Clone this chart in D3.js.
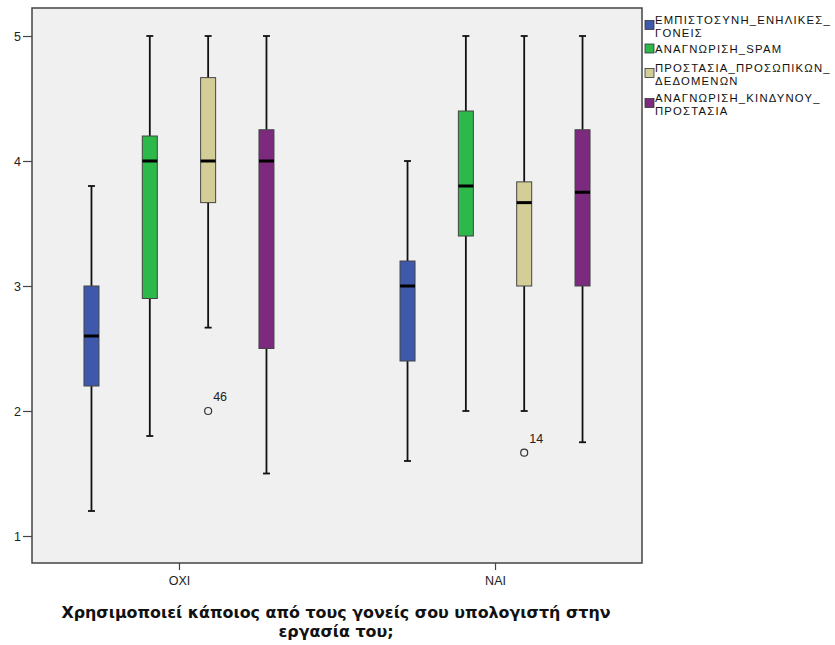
<!DOCTYPE html>
<html>
<head>
<meta charset="utf-8">
<script src="https://cdn.jsdelivr.net/npm/d3@7"></script>
<style>
  body { margin: 0; background: #fff; }
  svg { display: block; }
</style>
</head>
<body>
<svg id="chart" width="835" height="645"></svg>
<script>
// ---- Data ----
const groups = ["ΟΧΙ", "ΝΑΙ"];
const seriesNames = [
  "ΕΜΠΙΣΤΟΣΥΝΗ_ΕΝΗΛΙΚΕΣ_ΓΟΝΕΙΣ",
  "ΑΝΑΓΝΩΡΙΣΗ_SPAM",
  "ΠΡΟΣΤΑΣΙΑ_ΠΡΟΣΩΠΙΚΩΝ_ΔΕΔΟΜΕΝΩΝ",
  "ΑΝΑΓΝΩΡΙΣΗ_ΚΙΝΔΥΝΟΥ_ΠΡΟΣΤΑΣΙΑ"
];
const legendLines = [
  ["ΕΜΠΙΣΤΟΣΥΝΗ_ΕΝΗΛΙΚΕΣ_", "ΓΟΝΕΙΣ"],
  ["ΑΝΑΓΝΩΡΙΣΗ_SPAM"],
  ["ΠΡΟΣΤΑΣΙΑ_ΠΡΟΣΩΠΙΚΩΝ_", "ΔΕΔΟΜΕΝΩΝ"],
  ["ΑΝΑΓΝΩΡΙΣΗ_ΚΙΝΔΥΝΟΥ_", "ΠΡΟΣΤΑΣΙΑ"]
];
const seriesColors = ["#3E58AC", "#2DB84A", "#D3CE97", "#7B2A7D"];
// [whiskerLow, q1, median, q3, whiskerHigh] per group, per series
const statsOXI = [
  [1.2, 2.2, 2.6, 3.0, 3.8],
  [1.8, 2.9, 4.0, 4.2, 5.0],
  [2.667, 3.667, 4.0, 4.667, 5.0],
  [1.5, 2.5, 4.0, 4.25, 5.0]
];
const statsNAI = [
  [1.6, 2.4, 3.0, 3.2, 4.0],
  [2.0, 3.4, 3.8, 4.4, 5.0],
  [2.0, 3.0, 3.667, 3.833, 5.0],
  [1.75, 3.0, 3.75, 4.25, 5.0]
];
// outliers: [groupIndex, seriesIndex, value, label]
const outliers = [
  [0, 2, 2.0, "46"],
  [1, 2, 1.667, "14"]
];
const yTicks = [1, 2, 3, 4, 5];
const xTitleLines = ["Χρησιμοποιεί κάποιος από τους γονείς σου υπολογιστή στην", "εργασία του;"];

// ---- Layout ----
const svg = d3.select("#chart");
const plot = { left: 32, top: 8, right: 642, bottom: 563 };

const y = d3.scaleLinear().domain([1, 5]).range([536, 36]);
const x0 = d3.scalePoint().domain(groups).range([plot.left, plot.right]).padding(0.465);
const x1 = d3.scalePoint().domain(d3.range(seriesNames.length)).range([-87.5, 87.5]);

const boxW = 15, capW = 7;

// plot background
svg.append("rect")
  .attr("x", plot.left).attr("y", plot.top)
  .attr("width", plot.right - plot.left).attr("height", plot.bottom - plot.top)
  .attr("fill", "#F0F0F0");

// boxes
const allStats = [statsOXI, statsNAI];
allStats.forEach((stats, gi) => {
  const gx = x0(groups[gi]);
  stats.forEach((s, si) => {
    const cx = gx + x1(si);
    const g = svg.append("g");
    const wStroke = "#111", wW = 1.8;
    g.append("line").attr("x1", cx).attr("x2", cx).attr("y1", y(s[3])).attr("y2", y(s[4]))
      .attr("stroke", wStroke).attr("stroke-width", wW);
    g.append("line").attr("x1", cx).attr("x2", cx).attr("y1", y(s[0])).attr("y2", y(s[1]))
      .attr("stroke", wStroke).attr("stroke-width", wW);
    g.append("line").attr("x1", cx - capW / 2).attr("x2", cx + capW / 2).attr("y1", y(s[4])).attr("y2", y(s[4]))
      .attr("stroke", wStroke).attr("stroke-width", wW);
    g.append("line").attr("x1", cx - capW / 2).attr("x2", cx + capW / 2).attr("y1", y(s[0])).attr("y2", y(s[0]))
      .attr("stroke", wStroke).attr("stroke-width", wW);
    g.append("rect")
      .attr("x", cx - boxW / 2).attr("y", y(s[3]))
      .attr("width", boxW).attr("height", y(s[1]) - y(s[3]))
      .attr("fill", seriesColors[si]).attr("stroke", "#444").attr("stroke-width", 1);
    g.append("line").attr("x1", cx - boxW / 2).attr("x2", cx + boxW / 2).attr("y1", y(s[2])).attr("y2", y(s[2]))
      .attr("stroke", "#000").attr("stroke-width", 3);
  });
});

// outliers
outliers.forEach(o => {
  const cx = x0(groups[o[0]]) + x1(o[1]);
  const cy = y(o[2]);
  svg.append("circle").attr("cx", cx).attr("cy", cy).attr("r", 3.5)
    .attr("fill", "none").attr("stroke", "#333").attr("stroke-width", 1.2);
  svg.append("text").attr("x", cx + 5).attr("y", cy - 10)
    .attr("font-family", "Liberation Sans, Arial, sans-serif").attr("font-size", 12.5)
    .attr("fill", "#222").text(o[3]);
});

// frame
svg.append("rect")
  .attr("x", plot.left).attr("y", plot.top)
  .attr("width", plot.right - plot.left).attr("height", plot.bottom - plot.top)
  .attr("fill", "none").attr("stroke", "#444").attr("stroke-width", 1.5);

// y axis
const yAxis = d3.axisLeft(y).tickValues(yTicks).tickSize(9).tickPadding(2).tickFormat(d3.format("d"));
const ya = svg.append("g").attr("transform", `translate(${plot.left},0)`).call(yAxis);
ya.select(".domain").remove();
ya.selectAll(".tick line").attr("stroke", "#444").attr("stroke-width", 1.2);
ya.selectAll(".tick text").attr("font-family", "Liberation Sans, Arial, sans-serif").attr("font-size", 12.5).attr("fill", "#222");

// x axis
const xAxis = d3.axisBottom(x0).tickSize(7).tickPadding(6);
const xa = svg.append("g").attr("transform", `translate(0,${plot.bottom})`).call(xAxis);
xa.select(".domain").remove();
xa.selectAll(".tick line").attr("stroke", "#444").attr("stroke-width", 1.2);
xa.selectAll(".tick text").attr("font-family", "Liberation Sans, Arial, sans-serif").attr("font-size", 12.5).attr("fill", "#222");

// x title
const xt = svg.append("text")
  .attr("text-anchor", "middle")
  .attr("font-family", "DejaVu Sans, Verdana, sans-serif").attr("font-weight", "bold")
  .attr("font-size", 15.9).attr("fill", "#111");
xTitleLines.forEach((l, i) => {
  xt.append("tspan").attr("x", 336).attr("y", 618 + i * 19).text(l);
});

// legend
const legendY = [20, 48.5, 68, 98];
legendLines.forEach((lines, i) => {
  const ly = legendY[i];
  const sq = lines.length > 1 ? ly + 5 : ly;
  svg.append("rect").attr("x", 645).attr("y", sq - 4.5).attr("width", 9).attr("height", 9)
    .attr("fill", seriesColors[i]).attr("stroke", "#333").attr("stroke-width", 0.8);
  const t = svg.append("text")
    .attr("font-family", "Liberation Sans, Arial, sans-serif").attr("font-size", 11.3)
    .attr("letter-spacing", 1.2).attr("fill", "#111");
  lines.forEach((l, j) => {
    t.append("tspan").attr("x", 655).attr("y", ly + 4 + j * 13).text(l);
  });
});
</script>
</body>
</html>
